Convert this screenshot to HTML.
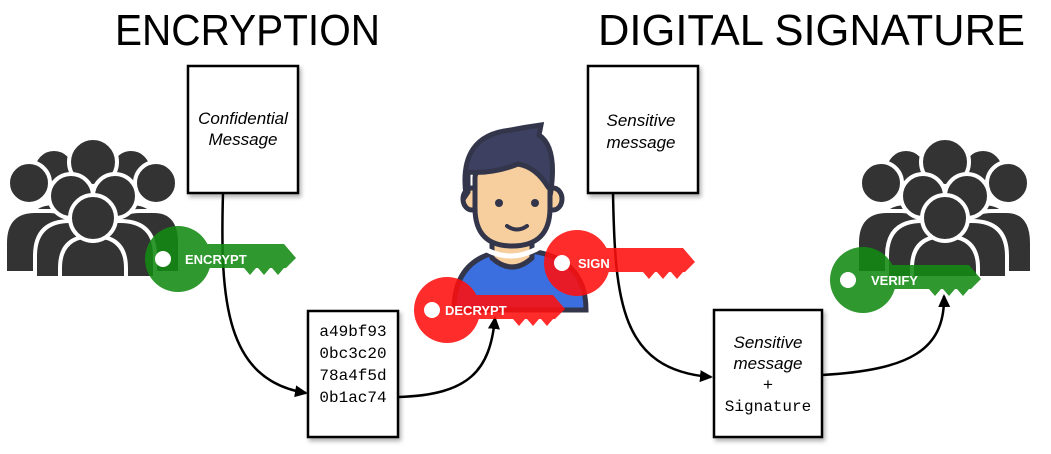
<!DOCTYPE html>
<html><head><meta charset="utf-8"><style>
html,body{margin:0;padding:0;background:#fff;}
svg{display:block;}
</style></head><body>
<svg width="1051" height="454" viewBox="0 0 1051 454" xmlns="http://www.w3.org/2000/svg">
<defs>
<g id="crowd">
  <g fill="#333" stroke="#fff" stroke-width="4">
    <path d="M20,95 q0,-30 30,-30 h20 q30,0 30,30 v40 h-80z"/>
    <path d="M75,95 q0,-30 30,-30 h20 q30,0 30,30 v40 h-80z"/>
    <path d="M0,105 q0,-32 30,-32 h14 q26,0 26,32 v30 h-70z"/>
    <path d="M105,105 q0,-32 30,-32 h14 q26,0 26,32 v30 h-70z"/>
    <circle cx="49" cy="32" r="21"/><circle cx="126" cy="32" r="21"/>
    <circle cx="24" cy="45" r="21"/><circle cx="151" cy="45" r="21"/>
    <circle cx="88" cy="24" r="24"/>
    <path d="M30,118 q0,-35 35,-35 h15 q20,0 20,35 v22 h-70z"/>
    <path d="M75,118 q0,-35 25,-35 h15 q35,0 35,35 v22 h-75z"/>
    <circle cx="66" cy="58" r="22"/><circle cx="110" cy="58" r="22"/>
    <path d="M55,130 q0,-32 33,-32 h0 q33,0 33,32 v10 h-66z"/>
    <circle cx="88" cy="80" r="23"/>
  </g>
</g>
<g id="key">
  <path d="M-33,0 a33,33 0 1,1 66,0 a33,33 0 1,1 -66,0z M18,-15 h88 l12,14 l-10,10 h-2 l-6,7 l-6,-7 h-2 l-6,7 l-6,-7 h-2 l-6,7 l-6,-7 h-48 v-24z"/>
</g>
<marker id="ah" markerWidth="14" markerHeight="14" refX="11" refY="7" orient="auto" markerUnits="userSpaceOnUse"><path d="M0,1 L13,7 L0,13 z" fill="#000"/></marker>
</defs>

<g font-family="Liberation Sans, sans-serif" font-size="44" fill="#000">
<text x="115" y="45" textLength="265" lengthAdjust="spacingAndGlyphs">ENCRYPTION</text>
<text x="598" y="45" textLength="427" lengthAdjust="spacingAndGlyphs">DIGITAL SIGNATURE</text>
</g>

<use href="#crowd" x="5" y="138"/>
<use href="#crowd" x="857" y="138"/>

<!-- person -->
<g stroke="#33354a" stroke-width="5">
  <path d="M454,310 q0,-55 56,-60 h2 q74,0 74,60z" fill="#3b6fe0"/>
  <path d="M492,240 v18 q20,18 40,0 v-18z" fill="#f7cf9f"/>
  <path d="M480,246 q30,20 62,0" fill="none" stroke="#fff" stroke-width="5"/>
  <ellipse cx="472" cy="199" rx="9" ry="11" fill="#f7cf9f"/>
  <ellipse cx="553" cy="199" rx="9" ry="11" fill="#f7cf9f"/>
  <path d="M475,178 q0,-15 37,-15 q38,0 38,15 v30 q0,38 -38,38 q-37,0 -37,-38z" fill="#f7cf9f"/>
  <path d="M466,195 q-8,-60 45,-65 q15,-3 30,-5 l-2,10 q18,12 12,55 l-3,-3 q-12,-20 -30,-23 q-25,10 -50,8 v20z" fill="#3d4060"/>
</g>
<circle cx="499" cy="203" r="4" fill="#33354a"/><circle cx="535" cy="203" r="4" fill="#33354a"/>
<path d="M507,226 q10,7 20,0" stroke="#33354a" stroke-width="4" fill="none" stroke-linecap="round"/>

<!-- boxes -->
<g fill="#fff" stroke="#000" stroke-width="2.5" style="filter:drop-shadow(2px 3px 2px rgba(0,0,0,0.3))">
<rect x="188" y="66" width="110" height="127"/>
<rect x="308" y="311" width="90" height="126"/>
<rect x="588" y="66" width="110" height="127"/>
<rect x="714" y="310" width="108" height="127"/>
</g>
<g font-family="Liberation Sans, sans-serif" font-style="italic" font-size="17" text-anchor="middle">
<text x="243" y="124">Confidential</text><text x="243" y="145">Message</text>
<text x="641" y="126">Sensitive</text><text x="641" y="148">message</text>
<text x="768" y="348">Sensitive</text><text x="768" y="369">message</text>
</g>
<text x="768" y="390" font-family="Liberation Sans, sans-serif" font-size="17" text-anchor="middle">+</text>
<g font-family="Liberation Mono, monospace" font-size="16" text-anchor="middle">
<text x="353" y="336">a49bf93</text><text x="353" y="358">0bc3c20</text>
<text x="353" y="380">78a4f5d</text><text x="353" y="402">0b1ac74</text>
<text x="768" y="411">Signature</text>
</g>

<!-- connectors -->
<g fill="none" stroke="#000" stroke-width="2.5" marker-end="url(#ah)">
<path d="M223,193 C220,300 225,380 306,393"/>
<path d="M398,397 C470,395 490,370 495,318"/>
<path d="M613,193 C615,300 620,370 711,377"/>
<path d="M822,375 C910,370 945,350 944,296"/>
</g>

<!-- keys -->
<g opacity="0.88">
<use href="#key" x="178" y="259" fill="#138a13"/>
<use href="#key" x="447" y="310" fill="#ff0f0f"/>
<use href="#key" x="577" y="263" fill="#ff0f0f"/>
<use href="#key" x="863" y="280" fill="#138a13"/>
</g>
<g fill="#fff">
<circle cx="163" cy="259" r="8"/><circle cx="432" cy="310" r="8"/>
<circle cx="562" cy="263" r="8"/><circle cx="848" cy="280" r="8"/>
</g>
<g font-family="Liberation Sans, sans-serif" font-weight="bold" font-size="13" fill="#fff">
<text x="185" y="264">ENCRYPT</text>
<text x="445" y="315">DECRYPT</text>
<text x="578" y="268">SIGN</text>
<text x="871" y="285">VERIFY</text>
</g>
</svg>
</body></html>
